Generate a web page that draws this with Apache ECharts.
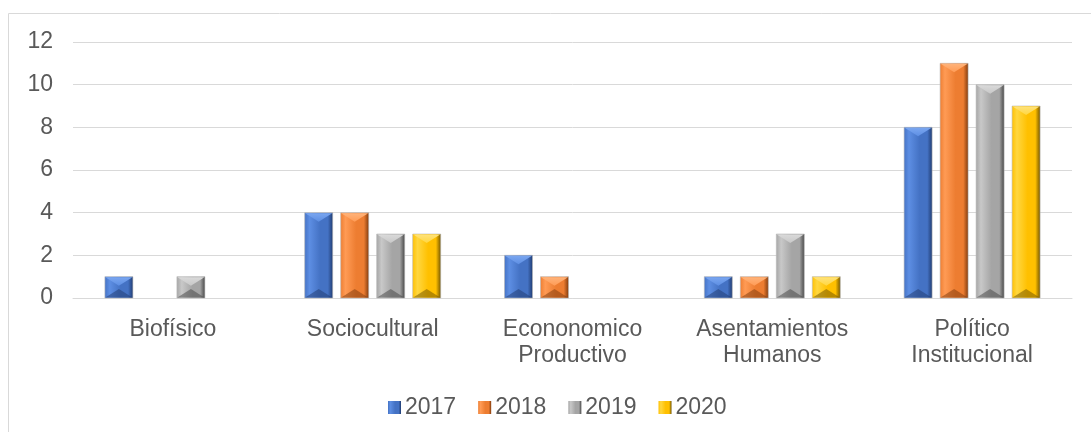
<!DOCTYPE html>
<html>
<head>
<meta charset="utf-8">
<script src="https://cdn.jsdelivr.net/npm/echarts@6/dist/echarts.min.js"></script>
<style>
  html, body { margin: 0; padding: 0; background: #fff; }
  #chart { width: 1091px; height: 432px; }
</style>
</head>
<body>
<div id="chart"></div>
<script>
var categories = ['Biofísico', 'Sociocultural', 'Econonomico\nProductivo', 'Asentamientos\nHumanos', 'Político\nInstitucional'];
var years = ['2017', '2018', '2019', '2020'];
var v2017 = [1, 4, 2, 1, 8];
var v2018 = [0, 4, 1, 1, 11];
var v2019 = [1, 3, 0, 3, 10];
var v2020 = [0, 3, 0, 1, 9];
var yTicks = [0, 2, 4, 6, 8, 10, 12];

// light / mid / dark / highlight shades for the bevelled bars
var shades = [
  ['#5d8ee3', '#4472c4', '#1f3a6e', '#7aa6f0'],
  ['#ff9b55', '#ed7d31', '#7e390c', '#ffb37a'],
  ['#c8c8c8', '#a5a5a5', '#444444', '#dadada'],
  ['#ffd740', '#ffc000', '#6e5200', '#ffe27a']
];

var BAR_W = 28, BAR_GAP = 8, TIP = 9;

function face(s) {
  return new echarts.graphic.LinearGradient(0, 0, 1, 0, [
    { offset: 0, color: s[1] },
    { offset: 0.18, color: s[0] },
    { offset: 0.55, color: s[1] },
    { offset: 0.82, color: s[1] },
    { offset: 1, color: s[2] }
  ]);
}

function makeRender(i) {
  return function (params, api) {
    var v = api.value(1);
    if (!v) return null;
    var base = api.coord([api.value(0), 0]);
    var top = api.coord([api.value(0), v]);
    var group = years.length * BAR_W + (years.length - 1) * BAR_GAP;
    var x = base[0] - group / 2 + i * (BAR_W + BAR_GAP);
    var w = BAR_W, y0 = top[1], y1 = base[1], h = y1 - y0;
    var cx = x + w / 2;
    var tip = Math.min(TIP, h / 2);
    var s = shades[i];
    return {
      type: 'group',
      children: [
        { type: 'rect', shape: { x: x, y: y0, width: w, height: h },
          style: { fill: face(s), stroke: '#b8b8b8', lineWidth: 0.6 } },
        { type: 'polygon', shape: { points: [[x + 0.5, y0 + 0.5], [x + w - 0.5, y0 + 0.5], [cx, y0 + tip]] },
          style: { fill: new echarts.graphic.LinearGradient(0, 0, 0, 1, [
            { offset: 0, color: s[3] }, { offset: 1, color: s[0] }]) } },
        { type: 'polygon', shape: { points: [[x + 0.5, y1 - 0.5], [x + w - 0.5, y1 - 0.5], [cx, y1 - tip]] },
          style: { fill: s[2], opacity: 0.5 } }
      ]
    };
  };
}

var chartDom = document.getElementById('chart');
var myChart = echarts.init(chartDom);

var values = [v2017, v2018, v2019, v2020];
var series = years.map(function (y, i) {
  return {
    name: y,
    type: 'custom',
    renderItem: makeRender(i),
    encode: { x: 0, y: 1 },
    itemStyle: { color: face(shades[i]) },
    data: values[i].map(function (v, c) { return [c, v]; })
  };
});

var option = {
  animation: false,
  textStyle: { fontFamily: 'Liberation Sans, Arial, sans-serif' },
  graphic: [{
    type: 'rect',
    shape: { x: 8.5, y: 13.5, width: 1200, height: 600 },
    style: { fill: 'none', stroke: '#d9d9d9', lineWidth: 1 },
    silent: true
  }],
  legend: {
    data: years,
    top: 391,
    left: 383,
    itemWidth: 13,
    itemHeight: 13,
    itemGap: 22,
    icon: 'rect',
    textStyle: { fontSize: 23, color: '#595959', padding: [0, 0, 0, -1] }
  },
  grid: { left: 73, right: 19, top: 42, bottom: 134 },
  xAxis: {
    type: 'category',
    data: categories,
    axisLine: { show: true, lineStyle: { color: '#d9d9d9' } },
    axisTick: { show: false },
    axisLabel: { fontSize: 23, color: '#595959', lineHeight: 26, margin: 19 }
  },
  yAxis: {
    type: 'value',
    min: yTicks[0],
    max: yTicks[yTicks.length - 1],
    interval: 2,
    axisLine: { show: false },
    axisTick: { show: false },
    axisLabel: { fontSize: 23, color: '#595959', margin: 20 },
    splitLine: { lineStyle: { color: '#d9d9d9', width: 1 } }
  },
  series: series
};
myChart.setOption(option);
</script>
</body>
</html>
